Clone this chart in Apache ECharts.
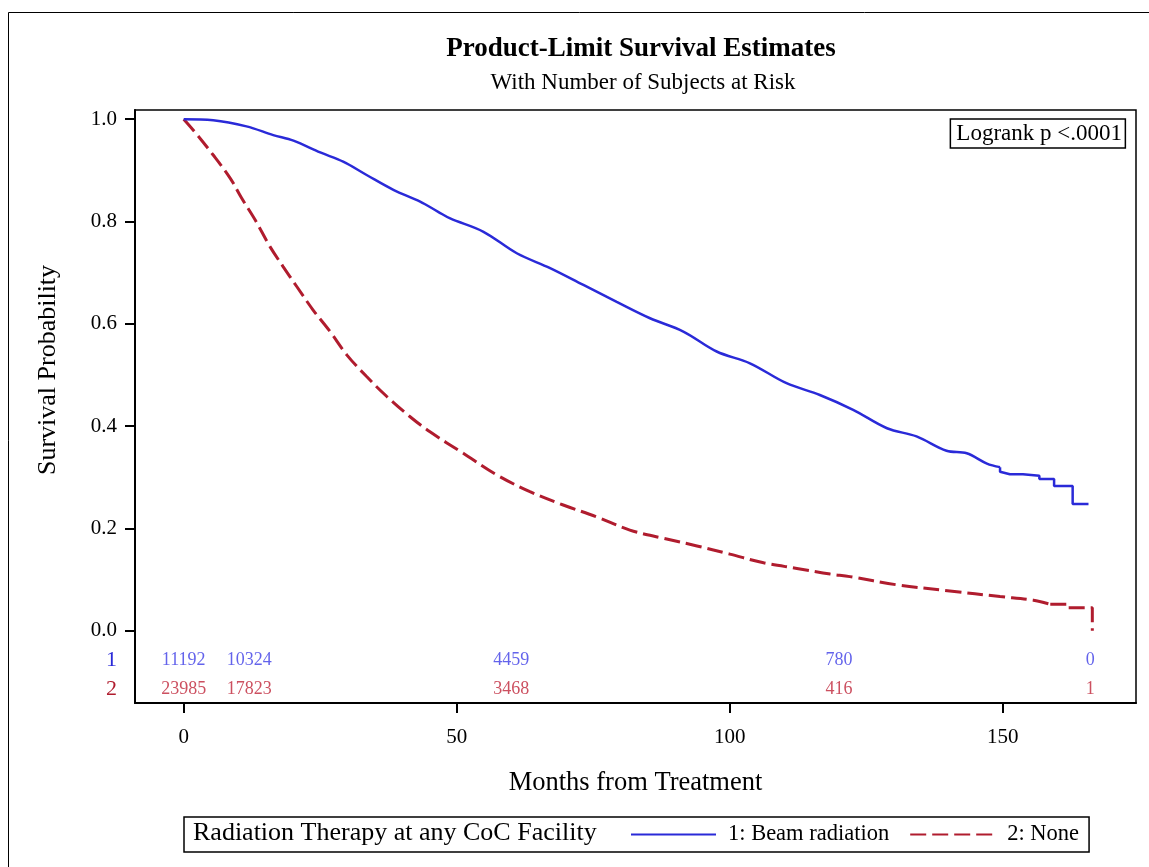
<!DOCTYPE html>
<html>
<head>
<meta charset="utf-8">
<script src="https://cdn.jsdelivr.net/npm/echarts@6/dist/echarts.min.js"></script>
<style>
html,body{margin:0;padding:0;background:#fff;}
#chart{width:1149px;height:867px;}
</style>
</head>
<body>
<div id="chart"></div>
<script>
// ---- Data ----
const blueMonths = [0,5.4,11.5,16.4,20.1,25,29.2,33.5,38.4,43.3,46.6,48.8,54.9,61,67.1,73.2,79.3,85.4,91.5,97.6,103.7,110.4,116.5,122.6,128.8,134.2,139.7,143.4,147.1,149.5,149.5,151.3,153.7,153.7,156.7,156.7,159.4,159.4,162.8,162.8,165.7];
const blueSurv   = [1,0.998,0.986,0.969,0.958,0.935,0.917,0.891,0.862,0.839,0.819,0.806,0.780,0.738,0.709,0.676,0.643,0.611,0.585,0.546,0.523,0.484,0.461,0.432,0.396,0.380,0.352,0.347,0.327,0.320,0.311,0.306,0.306,0.303,0.303,0.297,0.297,0.283,0.283,0.248,0.248];
const redMonths  = [0,1.8,5.4,8.5,10.6,13.1,15.8,18.2,20.7,23.7,26.8,29.9,33.5,37.2,41.4,45.1,51.2,57.3,63.4,69.5,75.6,81.7,87.8,94,100,106.2,112.3,118.4,122,130.6,140.3,149.5,155.6,158.7,162,162,166.4,166.4];
const redSurv    = [1,0.978,0.930,0.885,0.846,0.803,0.751,0.712,0.673,0.627,0.585,0.539,0.497,0.458,0.419,0.389,0.347,0.305,0.272,0.246,0.223,0.197,0.181,0.166,0.150,0.133,0.122,0.111,0.106,0.090,0.078,0.067,0.060,0.052,0.052,0.045,0.045,0];
// index where the curve turns into visible censor steps (drawn unsmoothed from here)
const blueStepStart = 29;
const redStepStart = 33;
const riskTimes  = [0, 12, 60, 120, 166];
const riskBeam   = [11192, 10324, 4459, 780, 0];
const riskNone   = [23985, 17823, 3468, 416, 1];
const xTicks = [0, 50, 100, 150];
const yTicks = [0, 0.2, 0.4, 0.6, 0.8, 1.0];
const riskRowY = {beam: -0.057, none: -0.114};
const seriesNames = ['1: Beam radiation', '2: None'];
const legendTitle = 'Radiation Therapy at any CoC Facility';

// ---- Styles ----
const FONT = "'Liberation Serif','Times New Roman',serif";
const BLUE = '#2a2ad8', RED = '#b01c2e';
const BLUE_T = '#3c3ce6', RED_T = '#bf2438';

const zip = (a, b) => a.map((v, i) => [v, b[i]]);
const blueData = zip(blueMonths, blueSurv);
const redData = zip(redMonths, redSurv);
const blueStyle = {color: BLUE, width: 2.5};
const redStyle = {color: RED, width: 3, type: [16, 6]};

const chart = echarts.init(document.getElementById('chart'));
chart.setOption({
  animation: false,
  backgroundColor: '#fff',
  title: [
    {text: 'Product-Limit Survival Estimates', left: 636, top: 31, textAlign: 'center',
     textStyle: {fontFamily: FONT, fontSize: 27, fontWeight: 'bold', color: '#000'}},
    {text: 'With Number of Subjects at Risk', left: 638, top: 66, textAlign: 'center',
     textStyle: {fontFamily: FONT, fontSize: 23, fontWeight: 'normal', color: '#000'}},
    {text: 'Logrank p <.0001', right: 23, top: 119, borderColor: '#000', borderWidth: 1.5,
     padding: [3, 4, 3, 6],
     textStyle: {fontFamily: FONT, fontSize: 23, fontWeight: 'normal', color: '#000'}}
  ],
  graphic: [
    {type: 'rect', silent: true, shape: {x: 8.5, y: 12.5, width: 1300, height: 1000},
     style: {fill: 'none', stroke: '#000', lineWidth: 1}},
    {type: 'text', left: 193, top: 820, silent: true,
     style: {text: legendTitle, font: "26px 'Liberation Serif','Times New Roman',serif", fill: '#000'}}
  ],
  legend: {
    left: 184, top: 817, orient: 'horizontal',
    padding: [6, 10, 6, 446], borderColor: '#000', borderWidth: 1.5,
    itemWidth: 85, itemHeight: 14, itemGap: 20,
    itemStyle: {opacity: 0},
    textStyle: {fontFamily: FONT, fontSize: 22.5, color: '#000', padding: [0, 0, 0, 7]},
    data: seriesNames
  },
  grid: {left: 135, right: 13, top: 110, bottom: 164, show: true, borderColor: '#000', borderWidth: 1.5},
  xAxis: {
    type: 'value', min: -8.92, max: 174.4,
    name: 'Months from Treatment', nameLocation: 'middle', nameGap: 67,
    nameTextStyle: {fontFamily: FONT, fontSize: 26.5, color: '#000'},
    axisLine: {show: true, onZero: false, lineStyle: {color: '#000', width: 2}},
    axisTick: {show: true, length: 10, customValues: xTicks, lineStyle: {color: '#000', width: 2}},
    axisLabel: {customValues: xTicks, margin: 24, fontFamily: FONT, fontSize: 21, color: '#000'},
    splitLine: {show: false}
  },
  yAxis: {
    type: 'value', min: -0.141, max: 1.018,
    name: 'Survival Probability', nameLocation: 'middle', nameGap: 74,
    nameTextStyle: {fontFamily: FONT, fontSize: 26, color: '#000', padding: [0, 0, 0, 73]},
    axisLine: {show: true, onZero: false, lineStyle: {color: '#000', width: 2}},
    axisTick: {show: true, length: 10, customValues: yTicks, lineStyle: {color: '#000', width: 2}},
    axisLabel: {
      customValues: [riskRowY.none, riskRowY.beam].concat(yTicks),
      margin: 18, fontFamily: FONT, fontSize: 21, color: '#000',
      formatter: function (v) {
        if (v < -0.1) return '{r|2}';
        if (v < -0.01) return '{b|1}';
        return v.toFixed(1);
      },
      rich: {
        b: {fontFamily: FONT, fontSize: 22, color: BLUE},
        r: {fontFamily: FONT, fontSize: 22, color: RED}
      }
    },
    splitLine: {show: false}
  },
  series: [
    {name: seriesNames[0], type: 'line', data: blueData.slice(0, blueStepStart + 1), symbol: 'none',
     smooth: 0.35, lineStyle: blueStyle, itemStyle: {color: BLUE}, z: 3},
    {name: seriesNames[0], type: 'line', data: blueData.slice(blueStepStart), symbol: 'none',
     lineStyle: blueStyle, itemStyle: {color: BLUE}, z: 3},
    {name: seriesNames[1], type: 'line', data: redData.slice(0, redStepStart + 1), symbol: 'none',
     smooth: 0.35, lineStyle: redStyle, itemStyle: {color: RED}, z: 2},
    {name: seriesNames[1], type: 'line', data: redData.slice(redStepStart), symbol: 'none',
     lineStyle: redStyle, itemStyle: {color: RED}, z: 2},
    {type: 'scatter', silent: true, symbolSize: 1, itemStyle: {color: 'rgba(0,0,0,0)'},
     data: riskTimes.map((t, i) => [t, riskRowY.beam, riskBeam[i]]),
     label: {show: true, position: 'inside', formatter: p => String(p.value[2]),
             fontFamily: FONT, fontSize: 18, color: BLUE_T}},
    {type: 'scatter', silent: true, symbolSize: 1, itemStyle: {color: 'rgba(0,0,0,0)'},
     data: riskTimes.map((t, i) => [t, riskRowY.none, riskNone[i]]),
     label: {show: true, position: 'inside', formatter: p => String(p.value[2]),
             fontFamily: FONT, fontSize: 18, color: RED_T}}
  ]
});
</script>
</body>
</html>
